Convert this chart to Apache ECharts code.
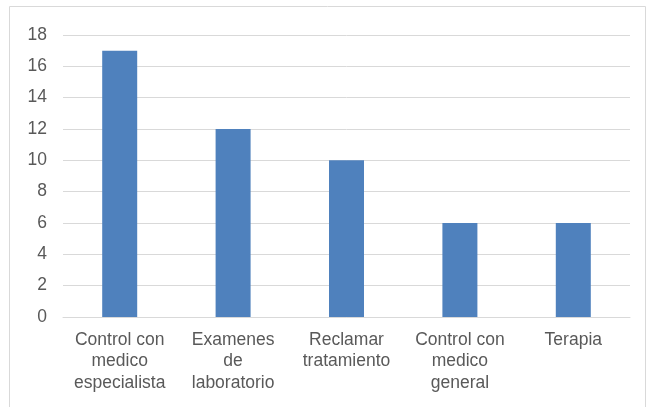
<!DOCTYPE html>
<html>
<head>
<meta charset="utf-8">
<script src="https://cdn.jsdelivr.net/npm/echarts@6/dist/echarts.min.js"></script>
<style>
html, body { margin: 0; padding: 0; background: #fff; }
#chart { width: 646px; height: 407px; }
</style>
</head>
<body>
<div id="chart"></div>
<script>
// Categories (line breaks follow the wrapped axis labels)
const categories = [
  'Control con\nmedico\nespecialista',
  'Examenes\nde\nlaboratorio',
  'Reclamar\ntratamiento',
  'Control con\nmedico\ngeneral',
  'Terapia'
];
const values = [17, 12, 10, 6, 6];
const yTicks = { min: 0, max: 18, interval: 2 };

const chart = echarts.init(document.getElementById('chart'));
chart.setOption({
  animation: false,
  graphic: [{
    type: 'rect',
    shape: { x: 9.5, y: 6.5, width: 636, height: 420 },
    style: { fill: 'none', stroke: '#d9d9d9', lineWidth: 1 },
    silent: true
  }],
  grid: { left: 63, right: 16, top: 35, bottom: 90 },
  xAxis: {
    type: 'category',
    data: categories,
    axisLine: { show: true, lineStyle: { color: '#d9d9d9', width: 1 } },
    axisTick: { show: false },
    axisLabel: {
      color: '#595959',
      fontFamily: 'Liberation Sans, Arial, sans-serif',
      fontSize: 17.5,
      lineHeight: 21.5,
      margin: 12,
      interval: 0
    }
  },
  yAxis: {
    type: 'value',
    min: yTicks.min,
    max: yTicks.max,
    interval: yTicks.interval,
    axisLine: { show: false },
    axisTick: { show: false },
    splitLine: { lineStyle: { color: '#d9d9d9', width: 1 } },
    axisLabel: {
      color: '#595959',
      fontFamily: 'Liberation Sans, Arial, sans-serif',
      fontSize: 17.5,
      margin: 16
    }
  },
  series: [{
    type: 'bar',
    data: values,
    barWidth: 35,
    itemStyle: { color: '#4f81bd' }
  }]
});
</script>
</body>
</html>
